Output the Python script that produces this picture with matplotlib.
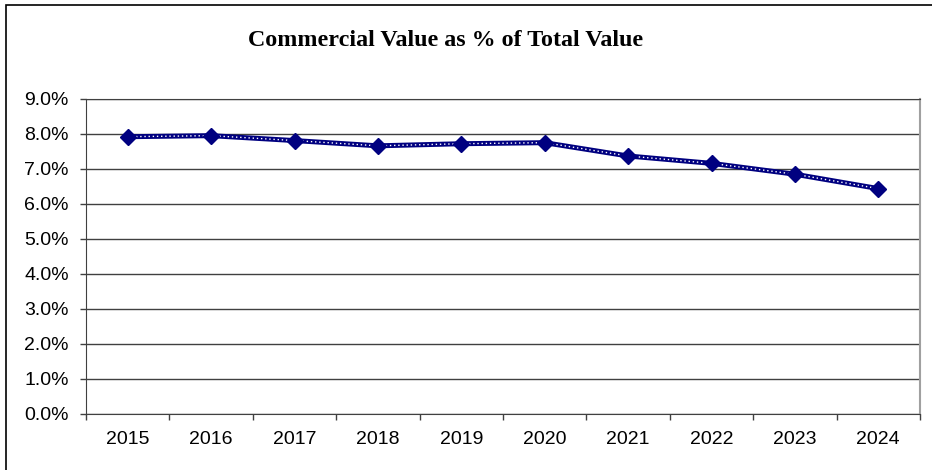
import matplotlib
matplotlib.use("Agg")
import matplotlib.pyplot as plt
from matplotlib.patches import Rectangle
from matplotlib.ticker import FuncFormatter, FixedLocator
import numpy as np

# commercial share of total assessed value, percent
years = ["2015", "2016", "2017", "2018", "2019", "2020", "2021", "2022", "2023", "2024"]
pct_commercial = [7.91, 7.94, 7.80, 7.65, 7.71, 7.74, 7.36, 7.15, 6.84, 6.43]

title = "Commercial Value as % of Total Value"

fig = plt.figure(figsize=(9.32, 4.70), dpi=100)
fig.patch.set_facecolor("white")

# chart frame (runs off the right and bottom edges)
fig.patches.append(Rectangle((6 / 932, -0.05), 1.2, 1.05 - 5 / 470,
                             transform=fig.transFigure, fill=False,
                             edgecolor="black", linewidth=1.2))

ax = fig.add_axes([86 / 932, 56 / 470, 834 / 932, 315.5 / 470])

x = np.arange(len(years))
# thick navy line with a white dotted core, diamond markers
ax.plot(x, pct_commercial, color="#000080", linewidth=3.6, zorder=3)
ax.plot(x, pct_commercial, color="white", linewidth=1.0,
        linestyle=(0, (1, 2)), zorder=4)
ax.plot(x, pct_commercial, linestyle="none", marker="D", markersize=8.5,
        color="#000080", zorder=5)

ax.set_xlim(-0.5, len(years) - 0.5)
ax.set_ylim(0, 9)
ax.set_yticks(np.arange(0, 9.5, 1.0))
ax.yaxis.set_major_formatter(FuncFormatter(lambda v, _: f"{v:.1f}%"))

ax.set_xticks(x)
ax.set_xticklabels(years)
ax.xaxis.set_minor_locator(FixedLocator(np.arange(-0.5, len(years), 1.0)))
ax.tick_params(axis="x", which="major", length=0, pad=12)
ax.tick_params(axis="x", which="minor", length=4.5, width=1, color="#404040")
ax.tick_params(axis="y", length=4.5, width=1, color="#404040", pad=8)

for lbl in ax.get_xticklabels() + ax.get_yticklabels():
    lbl.set_fontfamily("Liberation Sans")
    lbl.set_fontsize(14)

ax.grid(axis="y", color="#404040", linewidth=1.0)
ax.set_axisbelow(True)

ax.spines["left"].set_color("#404040")
ax.spines["bottom"].set_color("#404040")
ax.spines["top"].set_color("#404040")
ax.spines["right"].set_color("#a0a0a0")
ax.spines["right"].set_linewidth(1.5)

fig.text(446 / 932, 1 - 41 / 470, title, ha="center", va="center",
         fontfamily="Liberation Serif", fontweight="bold", fontsize=17.3)

fig.savefig("out.png", dpi=100)
